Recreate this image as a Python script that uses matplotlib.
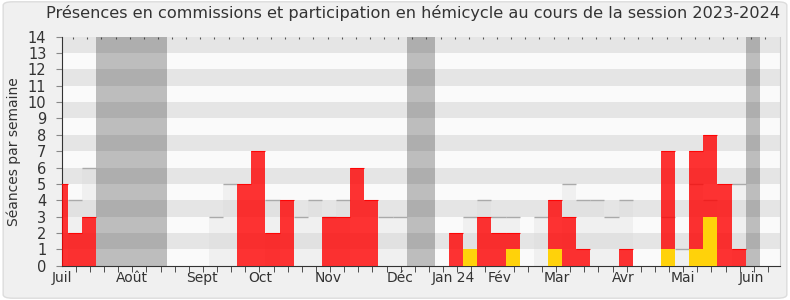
import numpy as np
import matplotlib
matplotlib.use("Agg")
import matplotlib.pyplot as plt
from matplotlib.patches import FancyBboxPatch

# ---- data (one entry per week) ----
commission = [5, 2, 3, 0, 0, 0, 0, 0, 0, 0, 0, 0, 0, 5, 7, 2, 4, 0, 0, 3,
              3, 6, 4, 0, 0, 0, 0, 0, 2, 0, 3, 2, 2, 0, 0, 4, 3, 1, 0, 0,
              1, 0, 0, 7, 0, 7, 8, 5, 1, 0, 0]
hemicycle = [0, 0, 0, 0, 0, 0, 0, 0, 0, 0, 0, 0, 0, 0, 0, 0, 0, 0, 0, 0,
             0, 0, 0, 0, 0, 0, 0, 0, 0, 1, 0, 0, 1, 0, 0, 1, 0, 0, 0, 0,
             0, 0, 0, 1, 0, 1, 3, 0, 0, 0, 0]
median = [0, 4, 6, 0, 0, 0, 0, 0, 0, 0, 0, 3, 5, 0, 0, 4, 0, 3, 4, 3,
          4, 0, 0, 3, 3, 0, 0, 0, 0, 3, 4, 3, 3, 0, 3, 0, 5, 4, 4, 3,
          4, 0, 0, 3, 1, 5, 4, 0, 5, 0, 0]
vacation_weeks = [3, 4, 5, 6, 7, 25, 26, 49]
month_labels = ["Juil", "Août", "Sept", "Oct", "Nov", "Déc", "Jan 24", "Fév",
                "Mar", "Avr", "Mai", "Juin"]
month_pos = [0.0, 4.95, 9.9, 14.03, 18.85, 23.94, 27.7, 31.0, 35.05, 39.72,
             43.97, 48.85]
ymax = 14

fig = plt.figure(figsize=(7.9, 3.0), dpi=100)
fig.patch.set_facecolor("white")
fig.patches.append(FancyBboxPatch((0.004, 0.006), 0.992, 0.988,
                                  boxstyle="round,pad=0,rounding_size=0.012",
                                  transform=fig.transFigure, facecolor="#f0f0f0",
                                  edgecolor="#dcdcdc", linewidth=1, zorder=-10))
ax = fig.add_axes([0.078, 0.114, 0.909, 0.764])
ax.set_facecolor("#fafafa")

n = len(commission)
offset = 0.425
centers = np.arange(n) - 1 + offset + 0.5
xmax = 50.83

# stripes
for k in range(ymax):
    ax.axhspan(k, k + 1, color="#e5e5e5" if k % 2 == 1 else "#fafafa", zorder=0, lw=0)

# vacations
for w in vacation_weeks:
    ax.axvspan(centers[w] - 0.5, centers[w] + 0.5, color="#282828", alpha=0.286,
               zorder=1, lw=0)

med = np.array(median, dtype=float)
ax.bar(centers, med, width=1.0, color="#d8d8d8", alpha=0.28, zorder=2, lw=0)
for c, m in zip(centers, med):
    if m > 0:
        ax.hlines(m, c - 0.5, c + 0.5, color="#aaaaaa", lw=1.0, zorder=3)

ax.bar(centers, commission, width=1.0, color="#ff0000", alpha=0.8, zorder=4, lw=0)
for c, v in zip(centers, commission):
    if v > 0:
        ax.hlines(v, c - 0.5, c + 0.5, color="#ff0000", lw=0.8, alpha=0.9, zorder=4.5)
ax.bar(centers, hemicycle, width=1.0, color="#ffd20a", zorder=5, lw=0)

ax.set_xlim(0, xmax)
ax.set_ylim(0, ymax)

ax.set_yticks(range(0, ymax + 1))
ax.tick_params(axis="y", length=4, color="#888888", pad=7, labelsize=10.5,
               labelcolor="#333333")
ax.set_xticks(month_pos)
ax.set_xticklabels(month_labels)
ax.set_xticks(np.arange(0, 51), minor=True)
ax.tick_params(axis="x", which="major", length=0, pad=4, labelsize=10,
               labelcolor="#333333")
ax.tick_params(axis="x", which="minor", length=4, color="#333333")

sec = ax.secondary_xaxis("top")
sec.set_xticks(np.arange(0, 50) + 0.82)
sec.tick_params(axis="x", direction="in", length=1.5, width=0.8, color="#555555",
                labeltop=False)
sec.spines["top"].set_visible(False)

ax.spines["top"].set_visible(False)
ax.spines["right"].set_color("#cccccc")
ax.spines["left"].set_color("#333333")
ax.spines["bottom"].set_color("#333333")

ax.set_ylabel("Séances par semaine", fontsize=10, color="#333333", labelpad=5)
fig.text(0.523, 0.957, "Présences en commissions et participation en hémicycle au cours de la session 2023-2024",
         ha="center", va="center", fontsize=11.6, color="#333333")

fig.savefig("out.png", dpi=100, facecolor=fig.get_facecolor())
